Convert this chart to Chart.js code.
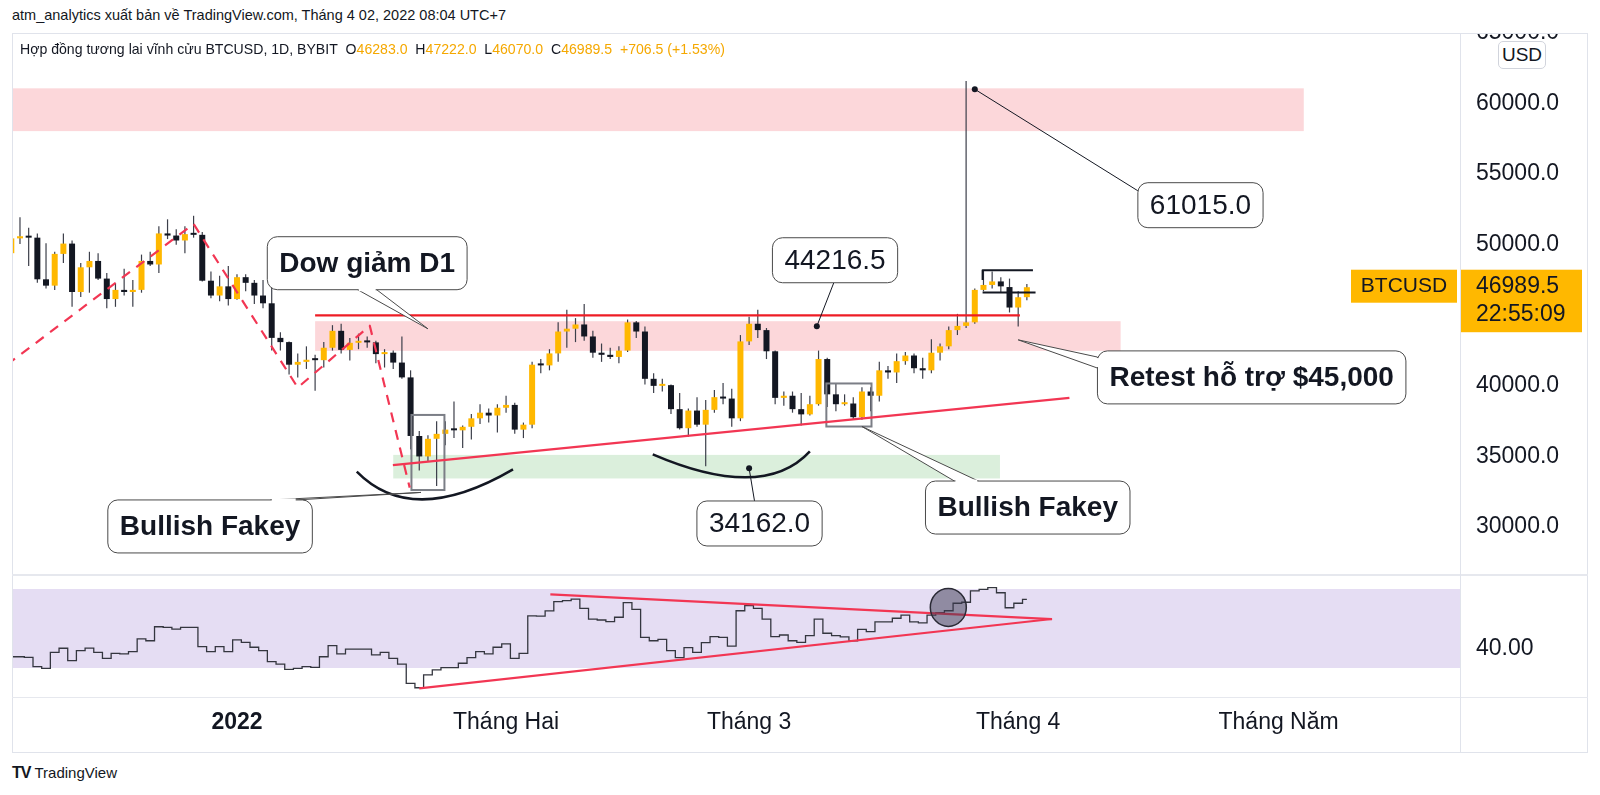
<!DOCTYPE html>
<html>
<head>
<meta charset="utf-8">
<title>BTCUSD 1D</title>
<script src="https://cdn.jsdelivr.net/npm/chart.js@4.4.1/dist/chart.umd.min.js"></script>
<style>
  html, body { margin: 0; padding: 0; background: #fff; }
  body { width: 1600px; height: 795px; position: relative; overflow: hidden; font-family: "Liberation Sans", Arial, sans-serif; color: #131722; }
  .abs { position: absolute; }
  #header { left: 12px; top: 7px; font-size: 14.5px; white-space: nowrap; }
  #legend { left: 20px; top: 41px; font-size: 14.1px; white-space: nowrap; z-index: 3; }
  #legend .v { color: #f5a800; }
  #frame { left: 12px; top: 33px; width: 1576px; height: 720px; border: 1px solid #e0e3eb; box-sizing: border-box; z-index: 2; }
  .hl { left: 12px; width: 1576px; height: 2px; background: #e6e8ee; z-index: 2; }
  .vl { width: 1px; background: #e0e3eb; z-index: 2; }
  #usd { left: 1498px; top: 41px; width: 48px; height: 28px; border: 1px solid #d1d4dc; border-radius: 5px; box-sizing: border-box; font-size: 19px; text-align: center; line-height: 26px; background: #fff; z-index: 3; }
  #brand { left: 12px; top: 764px; font-size: 15px; white-space: nowrap; }
  #brand b { font-size: 16px; letter-spacing: -1px; margin-right: 4px; }
</style>
</head>
<body>
<div id="header" class="abs">atm_analytics xuất bản về TradingView.com, Tháng 4 02, 2022 08:04 UTC+7</div>
<canvas id="main" class="abs" width="1575" height="542" style="left:12px;top:33px"></canvas>
<canvas id="osc" class="abs" width="1575" height="177" style="left:12px;top:575px"></canvas>
<div id="frame" class="abs"></div>
<div class="abs hl" style="top:574px"></div>
<div class="abs hl" style="top:697px;height:1px"></div>
<div class="abs vl" style="left:1460px;top:33px;height:720px"></div>
<div id="legend" class="abs"></div>
<div id="usd" class="abs">USD</div>
<div id="brand" class="abs"><b>TV</b>TradingView</div>
<script>
// daily candles, 6 Dec 2021 -> 2 Apr 2022 (day 0 = 1 Jan 2022)
const firstDay = -26;
const opens = [
  49400, 50450, 50600, 50500, 47550, 47100, 49350, 50080, 46650, 48400, 48850, 47600, 46150, 46800, 46650, 46800, 48850, 48600, 50800, 50650, 50300, 50750, 50700, 47450, 46400, 47050,
  46150, 47700, 47300, 46400, 45850, 43400, 43100, 41500, 41700, 41850, 41820, 42700, 43900, 42550, 43050, 43100, 43080, 42250, 42350, 41650, 40600, 36450, 35000, 36250, 36600, 36900, 36850, 37100, 37700, 38100, 37900,
  38450, 38650, 36900, 37250, 41500, 41450, 42300, 43850, 44050, 44350, 43500, 42350, 42200, 42050, 42500, 44500, 43850, 40500, 40000, 40050, 38350, 37000, 38250, 37250, 38300, 39200, 39100, 37700,
  43150, 44400, 43950, 42450, 39150, 39300, 38350, 37980, 38700, 41900, 39400, 38700, 38750, 37780, 39600, 39300, 41100, 40950, 41750, 42150, 41250, 41100, 42350, 42800, 43950, 44250, 44500, 46800, 47150, 47400, 47000,
  45550, 46283
];
const highs = [
  50900, 51950, 51200, 50800, 50100, 49500, 50800, 50300, 48700, 49500, 49400, 48000, 47300, 48300, 47500, 49300, 49500, 51300, 51800, 51100, 51300, 52050, 50900, 48100, 47800, 48500,
  47900, 47900, 47500, 47500, 47000, 43800, 43150, 42300, 42800, 42200, 43100, 44300, 44400, 43400, 43700, 43500, 43200, 42600, 42500, 43500, 41100, 36800, 36500, 37500, 37500, 38900, 37200, 38000, 38700, 38400, 38700,
  39300, 38800, 37400, 41700, 41900, 42600, 44500, 45400, 44800, 45800, 43900, 43000, 42700, 42800, 44700, 44600, 44200, 40900, 40500, 40100, 39500, 38400, 39200, 39000, 39700, 40200, 39800, 43600,
  44900, 45400, 44100, 42500, 39600, 39600, 39500, 39300, 42500, 42000, 40200, 39400, 39200, 39900, 39900, 41700, 41400, 42300, 42400, 42300, 42000, 43300, 43000, 44200, 45100, 61600, 46900, 48200, 48100, 47700, 47600,
  46700, 47222
];
const lows = [
  47100, 50050, 48500, 47300, 46900, 46800, 48700, 45600, 46300, 46600, 47500, 45500, 45600, 46400, 45600, 46600, 48500, 48000, 50400, 50000, 49400, 50500, 47400, 46200, 46000, 45700,
  46100, 46700, 45800, 45500, 42500, 42500, 40800, 40600, 41200, 39650, 41300, 42500, 42300, 41800, 42600, 42700, 41600, 41300, 41200, 40500, 35500, 34000, 34600, 32900, 35800, 36300, 35600, 36200, 37300, 37400, 36700,
  38100, 36600, 36300, 37000, 40900, 41100, 41700, 42700, 43100, 43200, 42000, 41700, 41900, 41600, 42400, 43400, 40100, 39500, 39600, 38000, 36900, 36400, 37100, 34300, 38100, 38700, 37100, 37500,
  42900, 43400, 41900, 38700, 38600, 38100, 37200, 37900, 38600, 38500, 38200, 38600, 37600, 37600, 38200, 38900, 40500, 40200, 41500, 40900, 40500, 40900, 41800, 42600, 43600, 44100, 44400, 46700, 46900, 46600, 45200,
  44200, 46070
];
const closes = [
  50450, 50600, 50500, 47550, 47100, 49350, 50080, 46650, 48400, 48850, 47600, 46150, 46800, 46650, 46800, 48850, 48600, 50800, 50650, 50300, 50750, 50700, 47450, 46400, 47050, 46150,
  47700, 47300, 46400, 45850, 43400, 43100, 41500, 41700, 41850, 41820, 42700, 43900, 42550, 43050, 43100, 43080, 42250, 42350, 41650, 40600, 36450, 35000, 36250, 36600, 36900, 36850, 37100, 37700, 38100, 37900, 38450,
  38650, 36900, 37250, 41500, 41450, 42300, 43850, 44050, 44350, 43500, 42350, 42200, 42050, 42500, 44500, 43850, 40500, 40000, 40050, 38350, 37000, 38250, 37250, 38300, 39200, 39100, 37700, 43150,
  44400, 43950, 42450, 39150, 39300, 38350, 37980, 38700, 41900, 39400, 38700, 38750, 37780, 39600, 39300, 41100, 40950, 41750, 42150, 41250, 41100, 42350, 42800, 43950, 44250, 44500, 46800, 47150, 47400, 47050, 45550,
  46280, 46989.5
];
const rsi = [
  35.7, 35.7, 35.4, 30.7, 29.8, 37.9, 40.0, 33.7, 38.8, 40.1, 37.9, 34.9, 37.4, 37.1, 38.3, 44.7, 43.8, 50.9, 50.6, 49.7, 50.6, 50.6, 40.8, 38.3, 40.8, 38.3,
  44.2, 43.0, 40.5, 38.8, 33.2, 32.0, 29.3, 29.8, 30.7, 30.3, 35.7, 41.3, 37.1, 39.6, 39.6, 39.6, 36.6, 37.9, 34.9, 32.0, 22.2, 20.0, 26.5, 29.0, 30.2, 30.2, 32.4, 35.2, 38.3, 37.1, 40.5,
  42.2, 34.9, 37.4, 56.4, 56.3, 58.9, 63.6, 64.1, 64.9, 60.2, 54.8, 54.3, 53.5, 55.7, 63.1, 59.7, 45.5, 43.8, 44.5, 38.8, 35.2, 40.3, 37.9, 42.8, 45.9, 45.5, 41.1, 59.0,
  61.6, 60.2, 54.8, 45.9, 46.7, 43.8, 43.0, 46.4, 54.8, 47.6, 46.4, 45.8, 43.7, 49.6, 48.4, 53.4, 53.4, 55.2, 56.8, 53.4, 52.9, 56.8, 58.0, 59.0, 62.8, 63.3, 69.1, 69.8, 70.7, 68.1, 60.5,
  62.8, 64.8
];
const monthTicks = [0, 31, 59, 90, 120];
const monthLabels = ['2022', 'Tháng Hai', 'Tháng 3', 'Tháng 4', 'Tháng Năm'];
const priceTicks = [30000, 35000, 40000, 45000, 50000, 55000, 60000, 65000];
const rsiTicks = [40];
const countdown = '22:55:09';

const days = opens.map((_, i) => firstDay + i);
const last = opens.length - 1;
const upColor = '#ffb800';
const downColor = '#131722';
const red = '#f23653';
const fontFamily = '"Liberation Sans", Arial, sans-serif';
Chart.defaults.font.family = fontFamily;
Chart.defaults.color = '#131722';

const xMin = -25.92, xMax = 140.9;

// drawings (day, price)
const zones = [
  { from: [-27, 58050], to: [122.9, 61080], color: 'rgba(242,54,69,0.2)' },
  { from: [9.0, 42480], to: [101.8, 44580], color: 'rgba(242,54,69,0.2)' },
  { from: [18.0, 33440], to: [87.9, 35110], color: 'rgba(76,175,80,0.2)' }
];
const resistLine = [[9.0, 45000], [90.2, 45000]];
const trendLine = [[17.96, 34380], [95.9, 39150]];
const dowSwing = [[-26.5, 41500], [-5.0, 51470], [7.0, 39880], [15.3, 44260], [19.9, 32790]];
const rangeMarks = [
  [[85.9, 47500], [85.9, 48200], [91.7, 48200]],
  [[85.9, 46610], [92.0, 46610]]
];
const fakeyBoxes = [
  { from: [20.1, 32620], to: [23.9, 37940] },
  { from: [67.9, 37120], to: [73.1, 40170] }
];
const bowls = [
  [[13.8, 33930], [21.5, 31960], [31.8, 34080]],
  [[47.9, 35150], [58.8, 33520], [66.0, 35360]]
];
const callouts = [
  { text: 'Dow giảm D1', bold: true, center: [15.0, 48690], tip: [22.0, 44040], side: 'bottom', at: 0.5, spread: 9.5 },
  { text: '44216.5', center: [68.9, 48900], tip: [66.8, 44216.5], side: 'bottom', at: 0.49 },
  { text: '61015.0', center: [111.0, 52800], tip: [85.0, 61015], side: 'left', at: 0.18 },
  { text: 'Retest hỗ trợ $45,000', bold: true, center: [116.9, 40600], tip: [90.0, 43260], side: 'left', at: 0.22, spread: 5.5 },
  { text: 'Bullish Fakey', bold: true, center: [-3.1, 30040], tip: [21.2, 32450], side: 'top', at: 0.86, spread: 13 },
  { text: '34162.0', center: [60.2, 30250], tip: [59.0, 34162], side: 'top', at: 0.46 },
  { text: 'Bullish Fakey', bold: true, center: [91.1, 31380], tip: [72.0, 37120], side: 'top', at: 0.2, spread: 12 }
];
const rsiUpper = [[36.1, 67.3], [93.9, 54.8]];
const rsiLower = [[21.0, 19.7], [93.9, 54.8]];
const rsiMark = [81.95, 60.7];

// legend from the last candle
const chg = closes[last] - opens[last];
document.getElementById('legend').innerHTML =
  'Hợp đồng tương lai vĩnh cửu BTCUSD, 1D, BYBIT&nbsp; O<span class="v">' + opens[last].toFixed(1) +
  '</span>&nbsp; H<span class="v">' + highs[last].toFixed(1) +
  '</span>&nbsp; L<span class="v">' + lows[last].toFixed(1) +
  '</span>&nbsp; C<span class="v">' + closes[last].toFixed(1) +
  '</span>&nbsp; <span class="v">+' + chg.toFixed(1) + ' (+' + (chg / opens[last] * 100).toFixed(2) + '%)</span>';

function pt(chart, p) {
  return [chart.scales.x.getPixelForValue(p[0]), chart.scales.y.getPixelForValue(p[1])];
}
function clipArea(ctx, chart) {
  const a = chart.chartArea;
  ctx.beginPath();
  ctx.rect(a.left, a.top, a.right - a.left, a.bottom - a.top);
  ctx.clip();
}
function polyline(ctx, chart, pts, color, width, dash) {
  ctx.save();
  ctx.strokeStyle = color;
  ctx.lineWidth = width;
  ctx.setLineDash(dash || []);
  ctx.lineJoin = 'round';
  ctx.beginPath();
  pts.forEach((p, i) => {
    const [x, y] = pt(chart, p);
    if (i) ctx.lineTo(x, y); else ctx.moveTo(x, y);
  });
  ctx.stroke();
  ctx.restore();
}
function drawCallout(ctx, chart, c) {
  ctx.save();
  ctx.font = (c.bold ? 'bold ' : '') + '28px ' + fontFamily;
  const w = ctx.measureText(c.text).width + 24;
  const h = c.bold ? 53 : 45;
  const [cx, cy] = pt(chart, c.center);
  const [tx, ty] = pt(chart, c.tip);
  const x0 = cx - w / 2, y0 = cy - h / 2;
  let bx, by;
  if (c.side === 'bottom') { bx = x0 + c.at * w; by = y0 + h; }
  else if (c.side === 'top') { bx = x0 + c.at * w; by = y0; }
  else { bx = x0; by = y0 + c.at * h; }
  const horiz = c.side !== 'left';
  const b1 = horiz ? [bx - (c.spread || 0), by] : [bx, by - (c.spread || 0)];
  const b2 = horiz ? [bx + (c.spread || 0), by] : [bx, by + (c.spread || 0)];
  ctx.strokeStyle = '#4a4a4a';
  ctx.lineWidth = 1;
  if (c.spread) {
    ctx.beginPath();
    ctx.moveTo(b1[0], b1[1]);
    ctx.lineTo(tx, ty);
    ctx.lineTo(b2[0], b2[1]);
    ctx.closePath();
    ctx.fillStyle = '#fff';
    ctx.fill();
    ctx.stroke();
  } else {
    ctx.strokeStyle = '#131722';
    ctx.beginPath();
    ctx.moveTo(bx, by);
    ctx.lineTo(tx, ty);
    ctx.stroke();
    ctx.fillStyle = '#131722';
    ctx.beginPath();
    ctx.arc(tx, ty, 3, 0, Math.PI * 2);
    ctx.fill();
  }
  ctx.beginPath();
  ctx.roundRect(x0, y0, w, h, 10);
  ctx.fillStyle = '#fff';
  ctx.fill();
  ctx.strokeStyle = '#4a4a4a';
  ctx.lineWidth = 1;
  ctx.stroke();
  if (c.spread) {
    ctx.strokeStyle = '#fff';
    ctx.lineWidth = 3;
    ctx.beginPath();
    ctx.moveTo(horiz ? b1[0] + 1 : b1[0], horiz ? b1[1] : b1[1] + 1);
    ctx.lineTo(horiz ? b2[0] - 1 : b2[0], horiz ? b2[1] : b2[1] - 1);
    ctx.stroke();
  }
  ctx.fillStyle = '#131722';
  ctx.textAlign = 'center';
  ctx.textBaseline = 'middle';
  ctx.fillText(c.text, cx, cy + 1);
  ctx.restore();
}

const mainDrawings = {
  id: 'mainDrawings',
  beforeDatasetsDraw(chart) {
    const ctx = chart.ctx;
    ctx.save();
    clipArea(ctx, chart);
    zones.forEach(z => {
      const [x0, y0] = pt(chart, z.from);
      const [x1, y1] = pt(chart, z.to);
      ctx.fillStyle = z.color;
      ctx.fillRect(Math.min(x0, x1), Math.min(y0, y1), Math.abs(x1 - x0), Math.abs(y1 - y0));
    });
    ctx.restore();
  },
  afterDatasetsDraw(chart) {
    const ctx = chart.ctx;
    ctx.save();
    clipArea(ctx, chart);
    fakeyBoxes.forEach(b => {
      const [x0, y0] = pt(chart, b.from);
      const [x1, y1] = pt(chart, b.to);
      ctx.strokeStyle = '#7b7e86';
      ctx.lineWidth = 2;
      ctx.strokeRect(Math.min(x0, x1), Math.min(y0, y1), Math.abs(x1 - x0), Math.abs(y1 - y0));
    });
    polyline(ctx, chart, resistLine, '#ee1c25', 2.2);
    polyline(ctx, chart, trendLine, red, 2.2);
    polyline(ctx, chart, dowSwing, red, 2.2, [10, 8]);
    rangeMarks.forEach(m => polyline(ctx, chart, m, '#131722', 2));
    bowls.forEach(b => {
      const [a, m, e] = b.map(p => pt(chart, p));
      const cpx = 2 * m[0] - (a[0] + e[0]) / 2;
      const cpy = 2 * m[1] - (a[1] + e[1]) / 2;
      ctx.strokeStyle = '#131722';
      ctx.lineWidth = 2.5;
      ctx.beginPath();
      ctx.moveTo(a[0], a[1]);
      ctx.quadraticCurveTo(cpx, cpy, e[0], e[1]);
      ctx.stroke();
    });
    ctx.restore();
    callouts.forEach(c => drawCallout(ctx, chart, c));
  },
  afterDraw(chart) {
    const ctx = chart.ctx;
    const y = chart.scales.y.getPixelForValue(closes[last]);
    const left = chart.scales.y.left;
    ctx.save();
    ctx.fillStyle = upColor;
    ctx.fillRect(left + 1, y - 17.5, 121, 62.5);
    ctx.fillRect(left - 109, y - 17.5, 106, 33);
    ctx.fillStyle = '#131722';
    ctx.textBaseline = 'middle';
    ctx.font = '23px ' + fontFamily;
    ctx.textAlign = 'left';
    ctx.fillText(closes[last].toFixed(1), left + 16, y - 1);
    ctx.fillText(countdown, left + 16, y + 27);
    ctx.font = '21px ' + fontFamily;
    ctx.textAlign = 'center';
    ctx.fillText('BTCUSD', left - 56, y - 1);
    ctx.restore();
  }
};

const rsiDrawings = {
  id: 'rsiDrawings',
  beforeDatasetsDraw(chart) {
    const ctx = chart.ctx;
    const a = chart.chartArea;
    const y70 = chart.scales.y.getPixelForValue(70);
    const y30 = chart.scales.y.getPixelForValue(30);
    ctx.save();
    ctx.fillStyle = 'rgba(126,87,194,0.2)';
    ctx.fillRect(a.left, y70, a.right - a.left, y30 - y70);
    ctx.restore();
  },
  afterDatasetsDraw(chart) {
    const ctx = chart.ctx;
    ctx.save();
    clipArea(ctx, chart);
    polyline(ctx, chart, rsiUpper, red, 2.2);
    polyline(ctx, chart, rsiLower, red, 2.2);
    const [cx, cy] = pt(chart, rsiMark);
    ctx.beginPath();
    ctx.ellipse(cx, cy, 18, 19, 0, 0, Math.PI * 2);
    ctx.fillStyle = 'rgba(60,58,82,0.5)';
    ctx.fill();
    ctx.strokeStyle = '#2a2a35';
    ctx.lineWidth = 1.5;
    ctx.stroke();
    ctx.restore();
  }
};

new Chart(document.getElementById('main'), {
  type: 'bar',
  data: {
    datasets: [
      {
        label: 'wicks',
        data: days.map((d, i) => ({ x: d, y: [lows[i], highs[i]] })),
        backgroundColor: '#3c3f4a',
        maxBarThickness: 1.2,
        grouped: false,
        order: 2
      },
      {
        label: 'bodies',
        data: days.map((d, i) => ({ x: d, y: [opens[i], closes[i]] })),
        backgroundColor: days.map((_, i) => closes[i] >= opens[i] ? upColor : downColor),
        maxBarThickness: 6,
        minBarLength: 2,
        grouped: false,
        order: 1
      }
    ]
  },
  options: {
    responsive: false,
    animation: false,
    devicePixelRatio: 1,
    layout: { padding: 0 },
    plugins: { legend: { display: false }, tooltip: { enabled: false } },
    scales: {
      x: { type: 'linear', display: false, min: xMin, max: xMax, offset: false },
      y: {
        position: 'right',
        min: 26600,
        max: 65000,
        grid: { display: false, drawTicks: false },
        border: { display: false },
        afterBuildTicks: s => { s.ticks = priceTicks.map(v => ({ value: v })); },
        afterFit: s => { s.width = 127; s.paddingTop = 0; s.paddingBottom = 0; },
        ticks: { padding: 16, autoSkip: false, color: '#131722', font: { size: 23 }, callback: v => v.toFixed(1) }
      }
    }
  },
  plugins: [mainDrawings]
});

new Chart(document.getElementById('osc'), {
  type: 'line',
  data: {
    datasets: [{
      label: 'RSI',
      data: days.map((d, i) => ({ x: d, y: rsi[i] })),
      stepped: 'middle',
      borderColor: '#34363f',
      borderWidth: 1.3,
      pointRadius: 0,
      fill: false
    }]
  },
  options: {
    responsive: false,
    animation: false,
    devicePixelRatio: 1,
    layout: { padding: 0 },
    plugins: { legend: { display: false }, tooltip: { enabled: false } },
    scales: {
      x: {
        type: 'linear',
        position: 'bottom',
        min: xMin,
        max: xMax,
        grid: { display: false, drawTicks: false },
        border: { display: false },
        afterBuildTicks: s => { s.ticks = monthTicks.map(v => ({ value: v })); },
        afterFit: s => { s.height = 54; s.paddingLeft = 0; s.paddingRight = 0; },
        ticks: {
          autoSkip: false,
          maxRotation: 0,
          padding: 11,
          color: '#131722',
          font: ctx => ({ family: fontFamily, size: 23, weight: ctx.index === 0 ? 'bold' : 'normal' }),
          callback: (v, i) => monthLabels[i]
        }
      },
      y: {
        position: 'right',
        min: 14.8,
        max: 77.1,
        grid: { display: false, drawTicks: false },
        border: { display: false },
        afterBuildTicks: s => { s.ticks = rsiTicks.map(v => ({ value: v })); },
        afterFit: s => { s.width = 127; s.paddingTop = 0; s.paddingBottom = 0; },
        ticks: { padding: 16, color: '#131722', font: { size: 23 }, callback: v => v.toFixed(2) }
      }
    }
  },
  plugins: [rsiDrawings]
});
</script>
</body>
</html>
